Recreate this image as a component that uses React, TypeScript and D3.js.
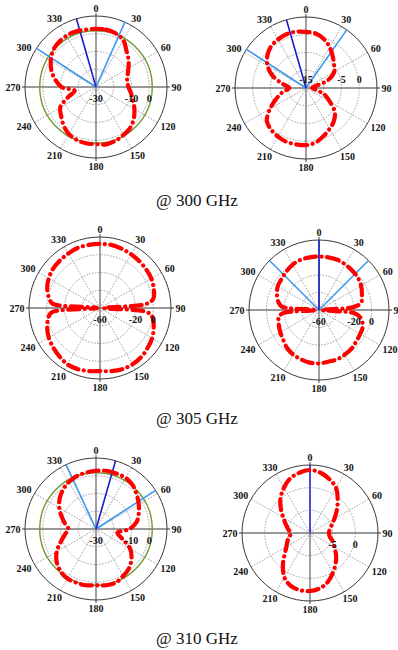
import * as d3 from 'd3';
import React, { useEffect, useRef } from 'react';

// angles in degrees, clockwise from the top
const ANGLES = [0, 10, 20, 30, 40, 50, 60, 70, 80, 90, 100, 110, 120, 130, 140, 150, 160, 170,
    180, 190, 200, 210, 220, 230, 240, 250, 260, 270, 280, 290, 300, 310, 320, 330, 340, 350];
const ANGLES_NULL = [0, 10, 20, 30, 40, 50, 60, 70, 80, 85, 90, 95, 100, 110, 120, 130, 140, 150, 160, 170,
    180, 190, 200, 210, 220, 230, 240, 250, 260, 265, 270, 275, 280, 290, 300, 310, 320, 330, 340, 350];

// gain in dB
const GAIN_300_LEFT = [2.8, 2.8, 2.2, 0.6, -3.3, -6.1, -8.9, -11.1, -12.2, -11.7, -10, -7.8, -5, -2.2, 0, 1.1, 2.2, 2.8,
    2.2, 2.2, 1.7, 0.6, -1.7, -4.4, -6.7, -13.3, -17.8, -10.6, -6.7, -3.3, -0.6, 1.7, 2.8, 3.3, 3.3, 2.8];
const GAIN_300_RIGHT = [0.8, 0.6, -0.3, -1.7, -3.3, -4.7, -5.8, -8.3, -12.5, -13.3, -12.2, -9.4, -7.2, -4.4, -2.8, -1.7, -0.6, 0.6,
    1.1, 1.1, 1.1, 0.8, 0.3, -0.6, -3.3, -6.1, -8.3, -10.3, -8.3, -5, -2.5, -0.8, 0.3, 0.8, 1.1, 1.1];
const GAIN_305_LEFT = [12.2, 12.2, 11.1, 10, 8.9, 7.8, 6.7, 4.4, 1.1, -7.8, -55.6, -6.7, 0, 4.4, 7.8, 10, 12.2, 13.3, 13.3, 12.2,
    11.1, 12.2, 13.3, 13.3, 11.1, 8.9, 6.7, 3.3, -1.1, -5.6, -56.7, -6.7, -2.2, 3.3, 6.7, 8.9, 10, 11.1, 12.2, 12.2];
const GAIN_305_RIGHT = [1.1, 1.1, 1.1, 0, -1.1, -2.2, -4.4, -7.8, -11.1, -20, -56.7, -20, -12.2, -6.7, -5.6, -4.4, -2.2, -1.1, 0, 0,
    1.1, 1.1, 0, -1.1, -3.3, -6.7, -8.9, -11.1, -13.3, -18.9, -56.7, -17.8, -13.3, -8.9, -5.6, -4.4, -2.2, 0, 1.1, 1.1];
const GAIN_310_LEFT = [2.8, 3.3, 3.3, 3.3, 2.2, 0, -2.2, -4.4, -6.7, -11.1, -17.8, -14.4, -7.8, -3.9, -1.1, 0.6, 2.2, 2.2,
    1.7, 2.2, 2.2, 2.2, 1.1, -1.1, -4.4, -8.9, -12.2, -14.4, -12.2, -9.4, -6.1, -3.3, -1.1, 0.6, 1.7, 2.2];
const GAIN_310_RIGHT = [3.9, 3.5, 2.6, 1.5, -0.5, -2.3, -3.8, -4.9, -5.6, -5.8, -5.6, -4.7, -3.8, -2.5, -1.2, 0.1, 1.5, 2.4,
    2.8, 2.8, 2.4, 1.3, -0.7, -2.7, -4, -4.7, -5.4, -5.8, -5.1, -4.3, -3.2, -1.6, 0.1, 1.5, 2.8, 3.5];

const ANGLE_TICKS = [0, 30, 60, 90, 120, 150, 180, 210, 240, 270, 300, 330];
const CAPTIONS = ['@ 300 GHz', '@ 305 GHz', '@ 310 GHz'];

// radial grid (inner rings) and the labelled ones
const RINGS_30 = [-20, -10, 0];
const LABELS_30 = [-30, -10, 0];
const RINGS_15 = [-10, -5, 0];
const LABELS_15 = [-15, -5, 0];
const RINGS_60 = [-40, -20, 0];
const LABELS_60 = [-60, -20, 0];
const RINGS_10 = [-5, 0];
const LABELS_10 = [-5, 0];

const GREEN_LEVEL = 1.7;

// beam direction lines (deg)
const MAIN_BEAM_300_LEFT = [344];
const EDGE_BEAMS_300_LEFT = [24, 303];
const MAIN_BEAM_300_RIGHT = [344];
const EDGE_BEAMS_300_RIGHT = [35, 303];
const MAIN_BEAM_305_RIGHT = [0];
const EDGE_BEAMS_305_RIGHT = [45, 315];
const MAIN_BEAM_310_LEFT = [16];
const EDGE_BEAMS_310_LEFT = [335, 57];
const MAIN_BEAM_310_RIGHT = [0];

const rad = (d: number) => d * Math.PI / 180;

export default () => {
    const ref = useRef<any>();

    function draw(): void {
        const width = 398;
        const height = 650;

        const plots: Array<any> = [
            { cx: 96, cy: 87, r: 71, domain: [-30, 10], rings: RINGS_30, labels: LABELS_30, below: true,
                angles: ANGLES, gain: GAIN_300_LEFT, green: true, main: MAIN_BEAM_300_LEFT, edge: EDGE_BEAMS_300_LEFT, mainColor: '#1c1cc8' },
            { cx: 306, cy: 88, r: 71, domain: [-15, 5], rings: RINGS_15, labels: LABELS_15, below: false,
                angles: ANGLES, gain: GAIN_300_RIGHT, green: false, main: MAIN_BEAM_300_RIGHT, edge: EDGE_BEAMS_300_RIGHT, mainColor: '#1c1cc8' },
            { cx: 100, cy: 308, r: 71, domain: [-60, 20], rings: RINGS_60, labels: LABELS_60, below: true,
                angles: ANGLES_NULL, gain: GAIN_305_LEFT, green: false, main: [], edge: [], mainColor: '#1c1cc8' },
            { cx: 319, cy: 310, r: 70, domain: [-60, 20], rings: RINGS_60, labels: LABELS_60, below: true,
                angles: ANGLES_NULL, gain: GAIN_305_RIGHT, green: false, main: MAIN_BEAM_305_RIGHT, edge: EDGE_BEAMS_305_RIGHT, mainColor: '#1c1cc8' },
            { cx: 96, cy: 529, r: 71, domain: [-30, 10], rings: RINGS_30, labels: LABELS_30, below: true,
                angles: ANGLES, gain: GAIN_310_LEFT, green: true, main: MAIN_BEAM_310_LEFT, edge: EDGE_BEAMS_310_LEFT, mainColor: '#1c1cc8' },
            { cx: 310, cy: 533, r: 68, domain: [-10, 5], rings: RINGS_10, labels: LABELS_10, below: true,
                angles: ANGLES, gain: GAIN_310_RIGHT, green: false, main: MAIN_BEAM_310_RIGHT, edge: [], mainColor: '#3636f2' },
        ];

        const svg = d3.select<any, any>(ref.current)
            .attr('width', width)
            .attr('height', height);
        svg.selectAll('*').remove();

        svg.append('rect').attr('width', width).attr('height', height).attr('fill', '#fff');

        plots.forEach((p) => {
            const g = svg.append('g').attr('transform', `translate(${p.cx},${p.cy})`);
            const rScale = d3.scaleLinear().domain(p.domain).range([0, p.r]).clamp(true);

            //grid rings
            g.selectAll('.ring')
                .data(p.rings)
                .join('circle')
                .attr('class', 'ring')
                .attr('r', (d: any) => rScale(d))
                .attr('fill', 'none')
                .attr('stroke', '#8c8c8c')
                .attr('stroke-width', 0.8)
                .attr('stroke-dasharray', '1.6 1.4');

            //spokes
            g.selectAll('.spoke')
                .data(ANGLE_TICKS.filter(a => a % 90 !== 0))
                .join('line')
                .attr('class', 'spoke')
                .attr('x1', 0).attr('y1', 0)
                .attr('x2', (d: any) => p.r * Math.sin(rad(d)))
                .attr('y2', (d: any) => -p.r * Math.cos(rad(d)))
                .attr('stroke', '#8c8c8c')
                .attr('stroke-width', 0.8)
                .attr('stroke-dasharray', '1.6 1.4');

            //axes
            g.append('line').attr('x1', -p.r - 3).attr('x2', p.r + 3).attr('y1', 0).attr('y2', 0)
                .attr('stroke', '#777').attr('stroke-width', 1.4);
            g.append('line').attr('y1', -p.r - 3).attr('y2', p.r + 3).attr('x1', 0).attr('x2', 0)
                .attr('stroke', '#777').attr('stroke-width', 1.4);

            //outer circle
            g.append('circle').attr('r', p.r).attr('fill', 'none').attr('stroke', '#3a3a3a').attr('stroke-width', 1);

            if (p.green) {
                g.append('circle').attr('r', rScale(GREEN_LEVEL)).attr('fill', 'none')
                    .attr('stroke', '#6f9a35').attr('stroke-width', 1.4);
            }

            //angle labels
            g.selectAll('.alabel')
                .data(ANGLE_TICKS)
                .join('text')
                .attr('class', 'alabel')
                .attr('x', (d: any) => Math.sin(rad(d)) * (p.r + 4 + String(d).length * 2.7))
                .attr('y', (d: any) => -Math.cos(rad(d)) * (p.r + 8) + 3.5)
                .attr('text-anchor', 'middle')
                .style('font-family', '"Liberation Serif", serif')
                .style('font-weight', 'bold')
                .style('font-size', '10px')
                .attr('fill', '#111')
                .text((d: any) => d);

            //beam lines
            g.selectAll('.edge')
                .data(p.edge)
                .join('line')
                .attr('class', 'edge')
                .attr('x2', (d: any) => p.r * Math.sin(rad(d)))
                .attr('y2', (d: any) => -p.r * Math.cos(rad(d)))
                .attr('stroke', '#3b98f0')
                .attr('stroke-width', 1.6);
            g.selectAll('.main')
                .data(p.main)
                .join('line')
                .attr('class', 'main')
                .attr('x2', (d: any) => p.r * Math.sin(rad(d)))
                .attr('y2', (d: any) => -p.r * Math.cos(rad(d)))
                .attr('stroke', p.mainColor)
                .attr('stroke-width', 1.6);

            //pattern
            const pts = p.angles.map((a: number, i: number) => [a, p.gain[i]]);
            const line = d3.lineRadial()
                .angle((d: any) => rad(d[0]))
                .radius((d: any) => rScale(d[1]))
                .curve(d3.curveCatmullRomClosed.alpha(0.5));

            g.append('path')
                .datum(pts)
                .attr('d', line as any)
                .attr('fill', 'none')
                .attr('stroke', '#ff0000')
                .attr('stroke-width', 4.2)
                .attr('stroke-linecap', 'round')
                .attr('stroke-linejoin', 'round')
                .attr('stroke-dasharray', '11 5.5 0.1 5.5');

            //radial labels (on top of the pattern)
            g.selectAll('.rlabel')
                .data(p.labels)
                .join('text')
                .attr('class', 'rlabel')
                .attr('x', (d: any) => rScale(d))
                .attr('y', p.below ? 14.5 : -5.5)
                .attr('text-anchor', 'middle')
                .style('font-family', '"Liberation Serif", serif')
                .style('font-weight', 'bold')
                .style('font-size', '10px')
                .attr('fill', '#111')
                .text((d: any) => d);
        });

        //captions
        svg.selectAll('.caption')
            .data(CAPTIONS)
            .join('text')
            .attr('class', 'caption')
            .attr('x', 197)
            .attr('y', (d: any, i: number) => [206, 424, 644][i])
            .attr('text-anchor', 'middle')
            .style('font-family', '"Liberation Serif", serif')
            .style('font-size', '17px')
            .attr('fill', '#111')
            .text((d: any) => d);
    }

    useEffect(() => {
        draw();
    });

    return (
        <div style={{ position: 'absolute', left: 0, top: 0 }}>
            <svg ref={ref} style={{ display: 'block' }}></svg>
        </div>
    );
};
